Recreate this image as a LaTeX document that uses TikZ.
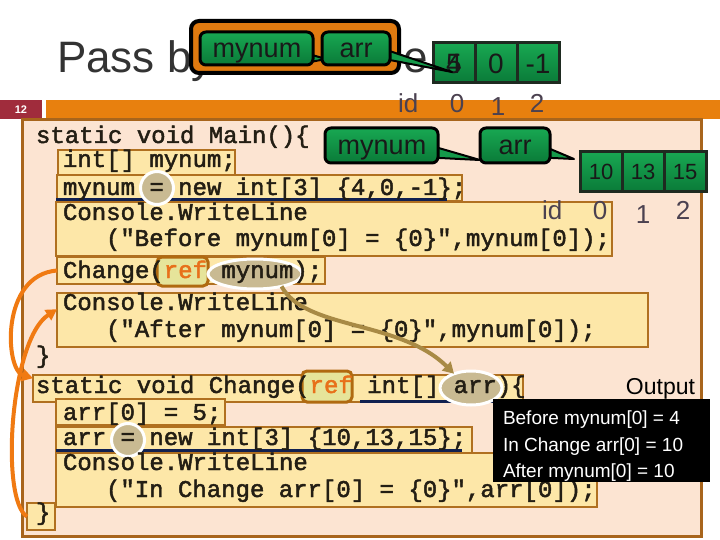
\documentclass[tikz,border=0pt]{standalone}
\usepackage{fontspec}
\setmainfont{Liberation Sans}
\setmonofont{Liberation Mono}
\newfontfamily\codefam[FakeBold=2]{Liberation Mono}
\usetikzlibrary{arrows.meta,shapes.geometric,calc}

\definecolor{titlec}{RGB}{51,51,51}
\definecolor{barorange}{RGB}{232,128,14}
\definecolor{numred}{RGB}{160,44,60}
\definecolor{panelbg}{RGB}{252,228,210}
\definecolor{panelbd}{RGB}{168,101,28}
\definecolor{boxfill}{RGB}{253,231,168}
\definecolor{boxbd}{RGB}{176,112,32}
\definecolor{tanc}{RGB}{201,186,146}
\definecolor{refbd}{RGB}{176,106,16}
\definecolor{reffill}{RGB}{230,228,154}
\definecolor{refc}{RGB}{232,112,26}
\definecolor{navy}{RGB}{16,32,80}
\definecolor{arrowor}{RGB}{240,122,18}
\definecolor{arrowtan}{RGB}{168,138,69}
\definecolor{gtop}{RGB}{24,168,82}
\definecolor{gbot}{RGB}{10,122,56}
\definecolor{cellbd}{RGB}{30,42,32}
\definecolor{idc}{RGB}{75,65,80}
\definecolor{codec}{RGB}{35,30,20}
\definecolor{grouporange}{RGB}{224,122,16}

\newcommand\mycodefont{\codefam\fontsize{24}{24}\selectfont}
\newcommand\mycallfont{\fontsize{27}{27}\selectfont}

\begin{document}
\begin{tikzpicture}[x=1pt,y=-1pt,
  every node/.style={inner sep=0pt,outer sep=0pt},
  codebox/.style={draw=boxbd,line width=2pt,fill=boxfill,anchor=north west},
  code/.style={anchor=base west,font=\mycodefont,text=codec},
  hilite/.style={draw=refbd,line width=3pt,fill=reffill,rounded corners=5pt,anchor=north west},
  tanshape/.style={draw=white,line width=3pt,fill=tanc},
  callout/.style={draw=black,line width=3pt,rounded corners=6pt,top color=gtop,bottom color=gbot},
  calltext/.style={anchor=base,font=\mycallfont,text=black!90},
  wedge/.style={draw=black,line width=2pt,fill=gtop!70!gbot,line join=round},
  cell/.style={draw=cellbd,line width=3pt,top color=gtop,bottom color=gbot,minimum width=42pt,minimum height=40pt,anchor=north west},
  celltext/.style={text=black!90,anchor=base},
  idlab/.style={text=idc,font=\fontsize{26}{26}\selectfont,anchor=base},
  uline/.style={draw=navy,line width=3pt},
  outtext/.style={anchor=base west,text=white,font=\fontsize{19}{19}\selectfont},
  titletext/.style={anchor=base west,text=titlec,font=\fontsize{44}{44}\selectfont},
  orarrow/.style={draw=arrowor,line width=4pt,-{Triangle[length=11pt,width=12pt]}},
  tanarrow/.style={draw=arrowtan,line width=4pt,-{Triangle[length=11pt,width=12pt]}}]

\useasboundingbox (0,0) rectangle (720,540);
\fill[white] (0,0) rectangle (720,540);

% title (the rest of it is hidden behind the callout group)
\node[titletext] (title) at (57,73) {Pass by};
\node[titletext] (title2) at (403,73) {e};

% header bar
\node[fill=numred,anchor=north west,minimum width=42pt,minimum height=19pt] (numbox) at (0,100) {};
\node[text=white,font=\bfseries\fontsize{11}{11}\selectfont] (num) at (numbox) {12};
\node[fill=barorange,anchor=north west,minimum width=674pt,minimum height=19pt] (bar) at (46,100) {};

% top group with callouts and array
\node[draw=black,line width=4pt,fill=grouporange,rounded corners=8pt,anchor=north west,minimum width=208pt,minimum height=52pt] (grp) at (191,21) {};
\node[cell] (t0) at (433,43) {};
\node[cell] (t1) at (475,43) {};
\node[cell] (t2) at (517,43) {};
\node[celltext,font=\fontsize{28}{28}\selectfont] (t0a) at (454,74) {4};
\node[celltext,font=\fontsize{28}{28}\selectfont] (t0b) at (454,74) {5};
\node[celltext,font=\fontsize{28}{28}\selectfont] (t1a) at (496,74) {0};
\node[celltext,font=\fontsize{28}{28}\selectfont] (t2a) at (538,74) {-1};
\node[idlab,anchor=base west] (idt) at (398,113) {id};
\node[idlab] (it0) at (457,113) {0};
\node[idlab] (it1) at (498,116) {1};
\node[idlab] (it2) at (537,113) {2};

\node[anchor=north west,minimum width=113pt,minimum height=33pt] (cm1) at (200,32) {};
\node[anchor=north west,minimum width=68pt,minimum height=33pt] (ca1) at (322,32) {};
\path[wedge] ($(cm1.south east)+(-8,-12)$) -- ($(cm1.south east)+(-8,-2)$) -- ($(ca1.south west)+(4,-6)$) -- cycle;
\path[wedge] ($(ca1.east)+(-8,0)$) -- ($(ca1.east)+(-8,10)$) -- ($(t0.south west)+(19,-11)$) -- cycle;
\node[callout,minimum width=113pt,minimum height=33pt] (cm1b) at (cm1.center) {};
\node[callout,minimum width=68pt,minimum height=33pt] (ca1b) at (ca1.center) {};
\node[calltext] (cm1t) at (257,58) {mynum};
\node[calltext] (ca1t) at (356,58) {arr};

% panel
\node[draw=panelbd,line width=3pt,fill=panelbg,anchor=north west,minimum width=679pt,minimum height=416pt] (panel) at (22,120) {};

% code boxes
\node[codebox,minimum width=177pt,minimum height=25pt] (b2) at (58,150) {};
\node[codebox,minimum width=405pt,minimum height=26pt] (b3) at (57,175) {};
\node[codebox,minimum width=556pt,minimum height=54pt] (b4) at (56,202) {};
\node[codebox,minimum width=268pt,minimum height=27pt] (b5) at (57,257) {};
\node[codebox,minimum width=591pt,minimum height=54pt] (b6) at (57,293) {};
\node[codebox,minimum width=490pt,minimum height=27pt] (b8) at (33,375) {};
\node[codebox,minimum width=169pt,minimum height=26pt] (b9) at (56,399) {};
\node[codebox,minimum width=416pt,minimum height=26pt] (b10) at (56,427) {};
\node[codebox,minimum width=541pt,minimum height=54pt] (b11) at (56,453) {};
\node[codebox,minimum width=28pt,minimum height=27pt] (b12) at (27,503) {};

% underlines
\draw[uline] (56,200) -- (447,200);
\draw[uline] (360,401) -- (503,401);
\draw[uline] (56,450) -- (462,450);

% highlights
\node[hilite,minimum width=51pt,minimum height=29pt] (h1) at (157,257) {};
\node[hilite,minimum width=50pt,minimum height=31pt] (h2) at (302,371) {};
\node[tanshape,ellipse,minimum width=94pt,minimum height=30pt] (em) at (255,274) {};
\node[tanshape,ellipse,minimum width=62pt,minimum height=34pt] (ea) at (471,388) {};
\node[tanshape,circle,minimum size=33pt] (eq1) at (157,188) {};
\node[tanshape,circle,minimum size=33pt] (eq2) at (128,440) {};

% code text
\node[code] (c1) at (36,143) {static void Main()\{};
\node[code] (c2) at (63,167) {int[] mynum;};
\node[code] (c3) at (63,195) {mynum = new int[3] \{4,0,-1\};};
\node[code] (c4a) at (63,220) {Console.WriteLine};
\node[code] (c4b) at (106,246) {("Before mynum[0] = \{0\}",mynum[0]);};
\node[code] (c5) at (63,278) {Change(\textcolor{refc}{ref} mynum);};
\node[code] (c6a) at (63,310) {Console.WriteLine};
\node[code] (c6b) at (106,337) {("After mynum[0] = \{0\}",mynum[0]);};
\node[code] (c7) at (36,363) {\}};
\node[code] (c8) at (36,393) {static void Change(\textcolor{refc}{ref} int[] arr)\{};
\node[code] (c9) at (63,420) {arr[0] = 5;};
\node[code] (c10) at (63,445) {arr = new int[3] \{10,13,15\};};
\node[code] (c11a) at (63,470) {Console.WriteLine};
\node[code] (c11b) at (106,497) {("In Change arr[0] = \{0\}",arr[0]);};
\node[code] (c12) at (36,520) {\}};

% panel callouts and array
\node[cell] (p0) at (580,152) {};
\node[cell] (p1) at (622,152) {};
\node[cell] (p2) at (664,152) {};
\node[celltext,font=\fontsize{22}{22}\selectfont] (p0a) at (601,180) {10};
\node[celltext,font=\fontsize{22}{22}\selectfont] (p1a) at (643,180) {13};
\node[celltext,font=\fontsize{22}{22}\selectfont] (p2a) at (685,180) {15};
\node[idlab,anchor=base west] (idp) at (542,220) {id};
\node[idlab] (ip0) at (600,220) {0};
\node[idlab] (ip1) at (643,223) {1};
\node[idlab] (ip2) at (683,220) {2};

\node[anchor=north west,minimum width=113pt,minimum height=35pt] (cm2) at (325,128) {};
\node[anchor=north west,minimum width=70pt,minimum height=35pt] (ca2) at (480,128) {};
\path[wedge] ($(cm2.east)+(-8,0)$) -- ($(cm2.east)+(-8,12)$) -- ($(ca2.south west)+(0,-3)$) -- cycle;
\path[wedge] ($(ca2.east)+(-8,0)$) -- ($(ca2.east)+(-8,12)$) -- ($(p0.west)+(-6,-13)$) -- cycle;
\node[callout,minimum width=113pt,minimum height=35pt] (cm2b) at (cm2.center) {};
\node[callout,minimum width=70pt,minimum height=35pt] (ca2b) at (ca2.center) {};
\node[calltext] (cm2t) at (382,155) {mynum};
\node[calltext] (ca2t) at (515,155) {arr};

% output
\node[anchor=base east,font=\fontsize{23}{23}\selectfont] (outlab) at (695,394) {Output};
\node[fill=black,anchor=north west,minimum width=217pt,minimum height=83pt] (outbox) at (493,399) {};
\node[outtext] (o1) at (503,424) {Before mynum[0] = 4};
\node[outtext] (o2) at (503,451) {In Change arr[0] = 10};
\node[outtext] (o3) at (503,477) {After mynum[0] = 10};

% arrows
\draw[tanarrow] (em.-25) .. controls (305,330) and (400,320) .. (ea.140);
\draw[orarrow] (b5.west) .. controls (0,275) and (5,370) .. ($(b8.north west)!0.12!(b8.south west)$);
\draw[orarrow] (b12.west) .. controls (0,500) and (10,340) .. ($(b6.north west)!0.3!(b6.south west)$);
\end{tikzpicture}
\end{document}
